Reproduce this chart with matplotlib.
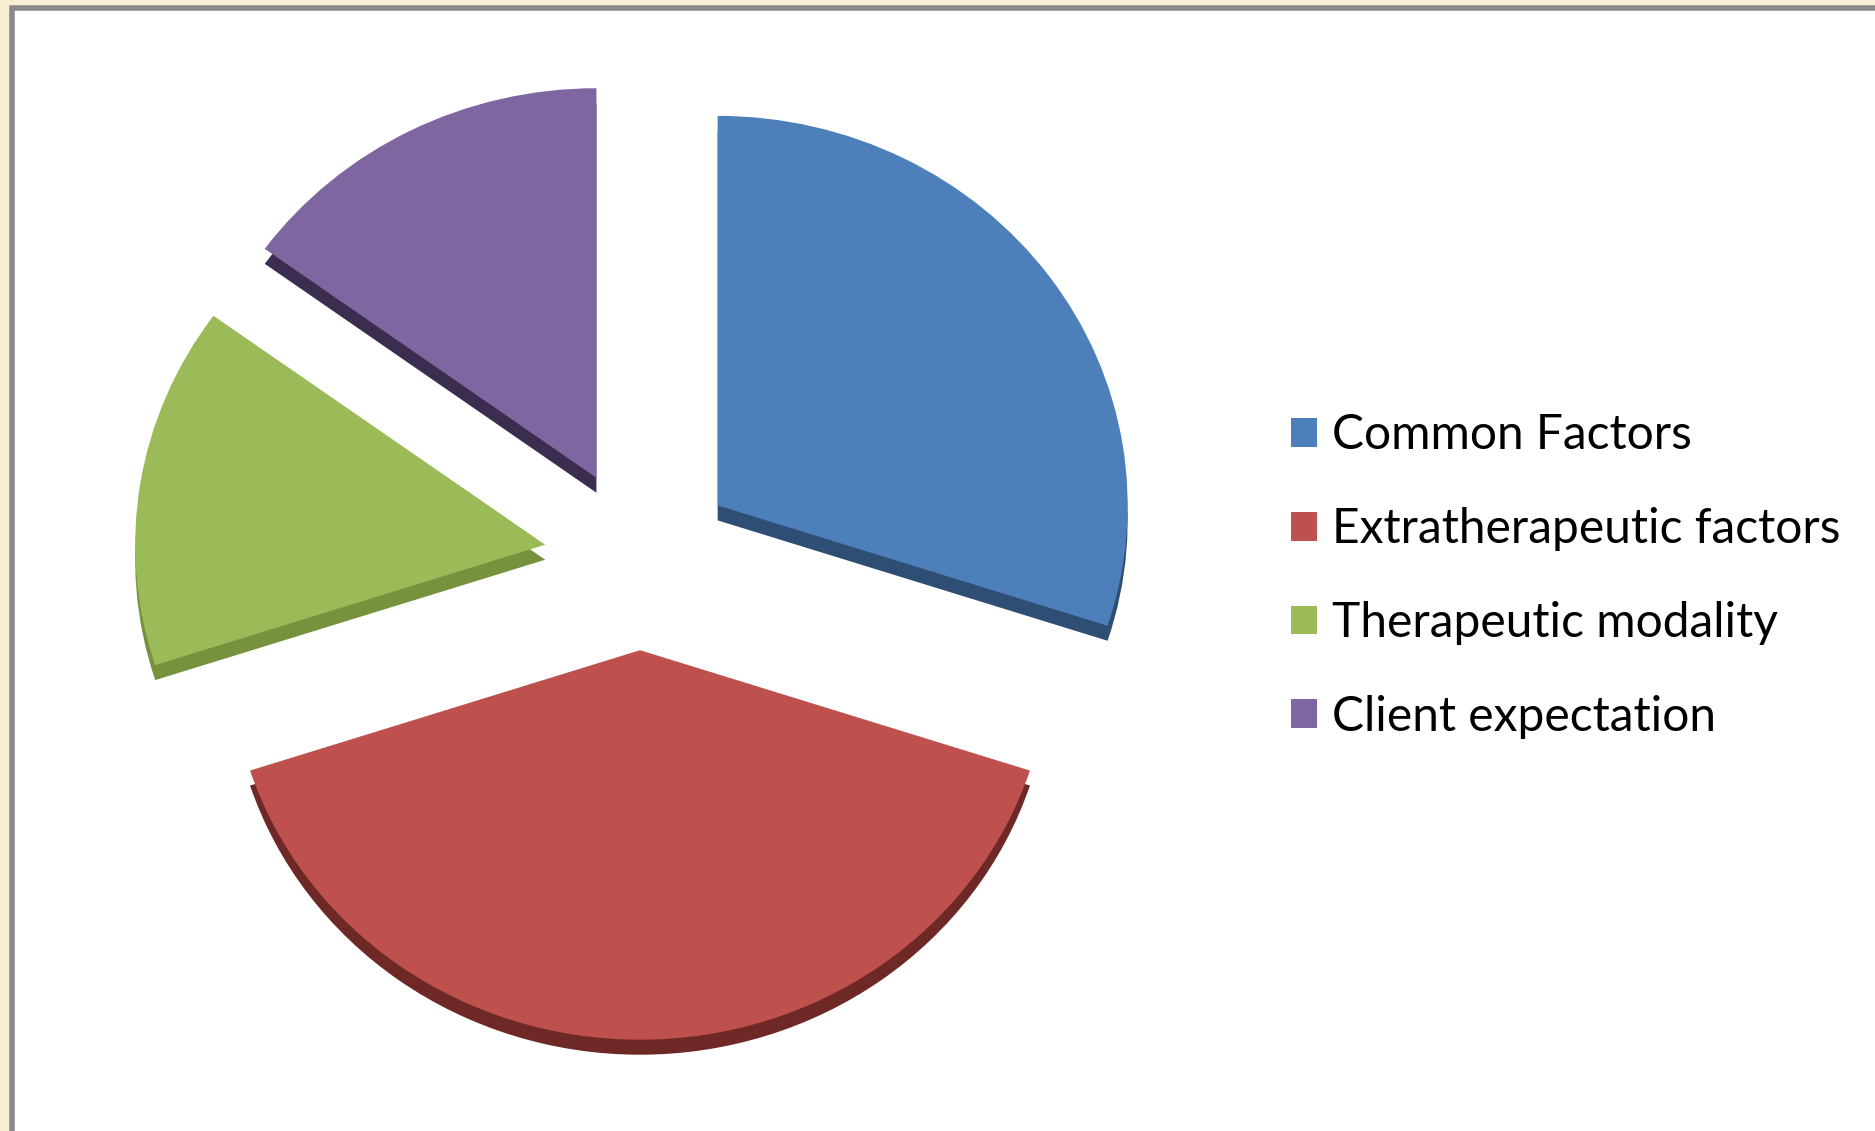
import matplotlib.pyplot as plt
from matplotlib.patches import Rectangle

# Dados
categorias = ['Common Factors', 'Extratherapeutic factors',
              'Therapeutic modality', 'Client expectation']
valores = [30, 40, 15, 15]
cores = ['#4D7FBA', '#BE504D', '#9BBB59', '#8066A1']
cores_lado = ['#2F4E74', '#6E2826', '#76923C', '#3B2D4F']

W, H = 1875, 1131
achatamento = 0.95   # pizza levemente inclinada
raio = 410
centro = (640, (H - 559) / achatamento)
espessura = 15 / achatamento
explode = [96] * len(valores)

fig = plt.figure(figsize=(W / 100, H / 100), dpi=100)
fig.patch.set_facecolor('#F8EFD3')

# moldura branca com borda cinza
fig.patches.append(Rectangle((12 / W, -0.1), 1.2, (H - 8) / H + 0.1,
                             transform=fig.transFigure, facecolor='white',
                             edgecolor='#8A8A8A', linewidth=4, zorder=-1))

ax = fig.add_axes([0, 0, 1, 1])
ax.patch.set_alpha(0)

# lateral (efeito 3D): copia escura deslocada para baixo
ax.pie(valores, colors=cores_lado, startangle=90, counterclock=False,
       radius=raio, center=(centro[0], centro[1] - espessura),
       explode=explode, wedgeprops={'linewidth': 0})
fatias, _ = ax.pie(valores, colors=cores, startangle=90, counterclock=False,
                   radius=raio, center=centro, explode=explode,
                   wedgeprops={'linewidth': 0})

ax.set_aspect('auto')
ax.set_xlim(0, W)
ax.set_ylim(0, H / achatamento)
ax.axis('off')

fig.legend(fatias, categorias, loc='center left',
           bbox_to_anchor=(1248 / W, 1 - 576 / H), frameon=False,
           prop={'family': 'Lato', 'size': 34.5},
           handlelength=0.55, handleheight=0.55, handletextpad=0.3,
           labelspacing=1.04)

plt.savefig('out.png', dpi=100, facecolor=fig.get_facecolor())
